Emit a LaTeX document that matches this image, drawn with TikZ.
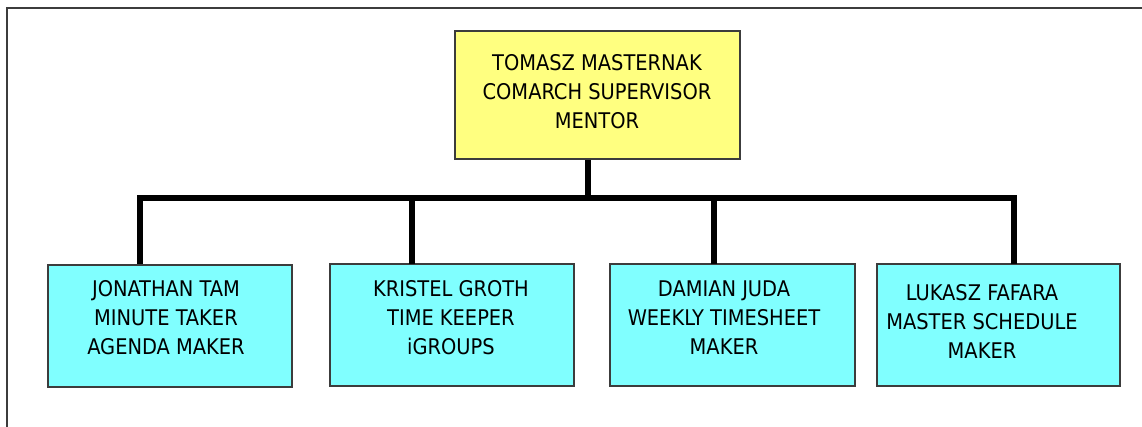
\documentclass[tikz,border=0pt]{standalone}
\usepackage{fontspec}
\setmainfont{DejaVu Sans Condensed}
\definecolor{topfill}{RGB}{255,255,128}
\definecolor{subfill}{RGB}{128,255,255}
\definecolor{edge}{RGB}{60,60,60}
\begin{document}
\begin{tikzpicture}[x=0.75pt,y=-0.75pt,
  box/.style={draw=edge,line width=0.9pt,inner sep=0pt},
  lbl/.style={align=center,font=\fontsize{16.2}{21.75}\selectfont,inner sep=0pt},
  wire/.style={line width=4.8pt,black}]
\useasboundingbox (0,0) rectangle (1142,427);
\draw[edge,line width=1.5pt] (7,427) -- (7,8) -- (1142,8);
% boxes
\node[box,fill=topfill,minimum width=285*0.75pt,minimum height=128*0.75pt] (top) at (597.5,95) {};
\node[box,fill=subfill,minimum width=244*0.75pt,minimum height=122*0.75pt] (b1) at (170,326) {};
\node[box,fill=subfill,minimum width=244*0.75pt,minimum height=122*0.75pt] (b2) at (452,325) {};
\node[box,fill=subfill,minimum width=245*0.75pt,minimum height=122*0.75pt] (b3) at (732.5,325) {};
\node[box,fill=subfill,minimum width=243*0.75pt,minimum height=122*0.75pt] (b4) at (998.5,325) {};
% texts
\node[lbl] (ttop) at (597,92) {TOMASZ MASTERNAK\\COMARCH SUPERVISOR\\MENTOR};
\node[lbl] (t1) at (166,318) {JONATHAN TAM\\MINUTE TAKER\\AGENDA MAKER};
\node[lbl] (t2) at (451,318) {KRISTEL GROTH\\TIME KEEPER\\iGROUPS};
\node[lbl] (t3) at (724,318) {DAMIAN JUDA\\WEEKLY TIMESHEET\\MAKER};
\node[lbl] (t4) at (982,321) {LUKASZ FAFARA\\MASTER SCHEDULE\\MAKER};
% connectors
\coordinate (j) at (588,198);
\coordinate (c1) at (140,264);
\coordinate (c2) at (412,264);
\coordinate (c3) at (714,264);
\coordinate (c4) at (1014,264);
\draw[wire] (top.south -| j) -- (j);
\draw[wire] (c1) -- (c1 |- j) -- (c4 |- j) -- (c4);
\draw[wire] (c2) -- (c2 |- j);
\draw[wire] (c3) -- (c3 |- j);
\end{tikzpicture}
\end{document}
